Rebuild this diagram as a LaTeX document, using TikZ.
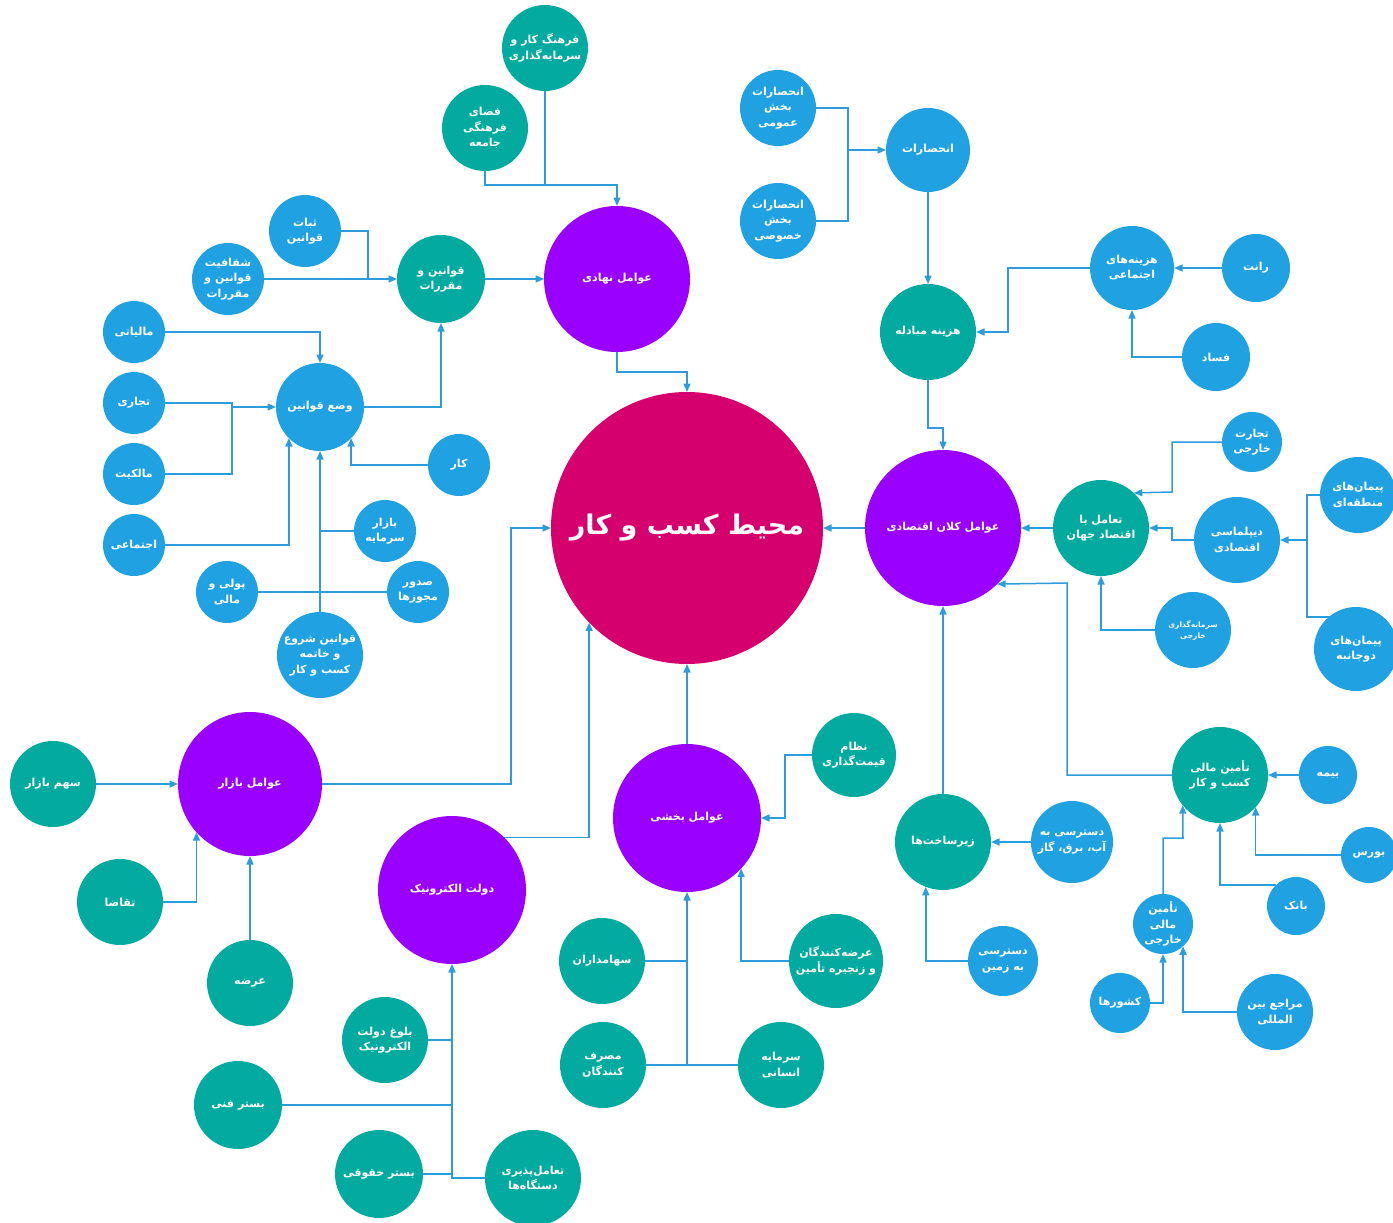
\documentclass[tikz,border=0pt]{standalone}
\usepackage{fontspec}
\usetikzlibrary{arrows.meta,backgrounds}
\TeXXeTstate=1
\newfontfamily\fa[Script=Arabic]{DejaVu Sans}
\newcommand\fatxt[1]{\beginR #1\endR}
\definecolor{cblue}{RGB}{31,161,226}
\definecolor{cteal}{RGB}{2,170,160}
\definecolor{cpurp}{RGB}{153,0,255}
\definecolor{cmag}{RGB}{213,0,110}
\definecolor{cline}{RGB}{45,156,219}
\tikzset{
 bub/.style={circle, inner sep=0pt, outer sep=0pt, text=white, align=center,
   font=\fa\bfseries\fontsize{11}{15.5}\selectfont},
 bl/.style={bub, fill=cblue},
 tl/.style={bub, fill=cteal},
 pu/.style={bub, fill=cpurp},
 ln/.style={draw=cline, line width=1.5pt},
 arr/.style={ln, -{Triangle[length=8.5pt,width=7pt]}},
 r/.style={minimum size=2*#1}
}
\begin{document}
\begin{tikzpicture}[x=1pt,y=-1pt]
\useasboundingbox (0,0) rectangle (1393,1223);
% center
\node[bub, fill=cmag, r=136, font=\fa\bfseries\fontsize{27}{30}\selectfont] (C) at (687,528) {\fatxt{محیط کسب و کار}};
% purple
\node[pu, r=73] (NH) at (617,279) {\fatxt{عوامل نهادی}};
\node[pu, r=78] (KL) at (943,528) {\fatxt{عوامل کلان اقتصادی}};
\node[pu, r=72] (BZ) at (250,784) {\fatxt{عوامل بازار}};
\node[pu, r=74] (DE) at (452,890) {\fatxt{دولت الکترونیک}};
\node[pu, r=74] (BK) at (687,818) {\fatxt{عوامل بخشی}};
% teal
\node[tl, r=43] (FK) at (545,48) {\fatxt{فرهنگ کار و}\\\fatxt{سرمایه^^^^200cگذاری}};
\node[tl, r=43] (FF) at (485,128) {\fatxt{فضای}\\\fatxt{فرهنگی}\\\fatxt{جامعه}};
\node[tl, r=44] (QM) at (441,279) {\fatxt{قوانین و}\\\fatxt{مقررات}};
\node[tl, r=48] (HM) at (928,332) {\fatxt{هزینه مبادله}};
\node[tl, r=48] (TJ) at (1101,528) {\fatxt{تعامل با}\\\fatxt{اقتصاد جهان}};
\node[tl, r=42] (NQ) at (854,755) {\fatxt{نظام}\\\fatxt{قیمت^^^^200cگذاری}};
\node[tl, r=48] (ZS) at (943,842) {\fatxt{زیرساخت^^^^200cها}};
\node[tl, r=48] (TM) at (1220,775) {\fatxt{تأمین مالی}\\\fatxt{کسب و کار}};
\node[tl, r=43] (SB) at (53,784) {\fatxt{سهم بازار}};
\node[tl, r=43] (TQ) at (120,902) {\fatxt{تقاضا}};
\node[tl, r=43] (AR) at (250,983) {\fatxt{عرضه}};
\node[tl, r=43] (BL) at (385,1040) {\fatxt{بلوغ دولت}\\\fatxt{الکترونیک}};
\node[tl, r=44] (BF) at (238,1105) {\fatxt{بستر فنی}};
\node[tl, r=44] (BH) at (379,1174) {\fatxt{بستر حقوقی}};
\node[tl, r=48] (TP) at (533,1178) {\fatxt{تعامل^^^^200cپذیری}\\\fatxt{دستگاه^^^^200cها}};
\node[tl, r=43] (SH) at (602,961) {\fatxt{سهامداران}};
\node[tl, r=43] (MK) at (603,1065) {\fatxt{مصرف}\\\fatxt{کنندگان}};
\node[tl, r=47] (AK) at (836,961) {\fatxt{عرضه^^^^200cکنندگان}\\\fatxt{و زنجیره تأمین}};
\node[tl, r=43] (SE) at (781,1065) {\fatxt{سرمایه}\\\fatxt{انسانی}};
% blue
\node[bl, r=36] (SQ) at (305,231) {\fatxt{ثبات}\\\fatxt{قوانین}};
\node[bl, r=36] (SF) at (228,279) {\fatxt{شفافیت}\\\fatxt{قوانین و}\\\fatxt{مقررات}};
\node[bl, r=31] (ML) at (134,332) {\fatxt{مالیاتی}};
\node[bl, r=31] (TR) at (134,403) {\fatxt{تجاری}};
\node[bl, r=31] (MA) at (134,474) {\fatxt{مالکیت}};
\node[bl, r=31] (EJ) at (134,545) {\fatxt{اجتماعی}};
\node[bl, r=44] (WQ) at (320,407) {\fatxt{وضع قوانین}};
\node[bl, r=31] (KA) at (459,465) {\fatxt{کار}};
\node[bl, r=31] (BS) at (385,531) {\fatxt{بازار}\\\fatxt{سرمایه}};
\node[bl, r=31] (SM) at (418,592) {\fatxt{صدور}\\\fatxt{مجوزها}};
\node[bl, r=31] (PM) at (227,592) {\fatxt{پولی و}\\\fatxt{مالی}};
\node[bl, r=43] (QS) at (320,655) {\fatxt{قوانین شروع}\\\fatxt{و خاتمه}\\\fatxt{کسب و کار}};
\node[bl, r=38] (EA) at (778,108) {\fatxt{انحصارات}\\\fatxt{بخش}\\\fatxt{عمومی}};
\node[bl, r=38] (EB) at (778,221) {\fatxt{انحصارات}\\\fatxt{بخش}\\\fatxt{خصوصی}};
\node[bl, r=42] (EN) at (928,150) {\fatxt{انحصارات}};
\node[bl, r=42] (HE) at (1132,268) {\fatxt{هزینه^^^^200cهای}\\\fatxt{اجتماعی}};
\node[bl, r=34] (RA) at (1256,268) {\fatxt{رانت}};
\node[bl, r=34] (FS) at (1216,357) {\fatxt{فساد}};
\node[bl, r=30] (TK) at (1252,442) {\fatxt{تجارت}\\\fatxt{خارجی}};
\node[bl, r=43] (DP) at (1237,540) {\fatxt{دیپلماسی}\\\fatxt{اقتصادی}};
\node[bl, r=38] (PR) at (1358,495) {\fatxt{پیمان^^^^200cهای}\\\fatxt{منطقه^^^^200cای}};
\node[bl, r=42] (PD) at (1356,649) {\fatxt{پیمان^^^^200cهای}\\\fatxt{دوجانبه}};
\node[bl, r=38, font=\fa\bfseries\fontsize{7.5}{11}\selectfont] (SK) at (1193,630) {\fatxt{سرمایه^^^^200cگذاری}\\\fatxt{خارجی}};
\node[bl, r=41] (DA) at (1072,842) {\fatxt{دسترسی به}\\\fatxt{آب، برق، گاز}};
\node[bl, r=35] (DZ) at (1003,961) {\fatxt{دسترسی}\\\fatxt{به زمین}};
\node[bl, r=29] (BM) at (1328,775) {\fatxt{بیمه}};
\node[bl, r=28] (BR) at (1369,855) {\fatxt{بورس}};
\node[bl, r=29] (BN) at (1296,906) {\fatxt{بانک}};
\node[bl, r=30] (TX) at (1163,924) {\fatxt{تأمین}\\\fatxt{مالی}\\\fatxt{خارجی}};
\node[bl, r=30] (KS) at (1120,1003) {\fatxt{کشورها}};
\node[bl, r=38] (MB) at (1275,1012) {\fatxt{مراجع بین}\\\fatxt{المللی}};
% connectors
\begin{scope}[on background layer]
\draw[ln] (FK.center) -- (545,185);
\draw[arr] (FF.center) |- (617,185) -- (NH.north);
\draw[ln] (SQ.center) -| (368,279);
\draw[arr] (SF.center) -- (QM.west);
\draw[arr] (QM.center) -- (NH.west);
\draw[arr] (NH.center) |- (687,372) -- (C.north);
\draw[arr] (ML.center) -| (WQ.north);
\draw[ln] (TR.center) -| (232,474) -- (MA.center);
\draw[arr] (232,407) -- (WQ.west);
\draw[arr] (EJ.center) -| (WQ.225);
\draw[arr] (KA.center) -| (WQ.315);
\draw[ln] (BS.center) -- (320,531);
\draw[ln] (PM.center) -- (SM.center);
\draw[arr] (QS.center) -- (WQ.south);
\draw[arr] (WQ.center) -| (QM.south);
\draw[arr] (BZ.center) -| (511,528) -- (C.west);
\draw[arr] (DE.45) -| (C.224.5);
\draw[arr] (SB.center) -- (BZ.west);
\draw[arr] (TQ.center) -| (BZ.222.6);
\draw[arr] (AR.center) -- (BZ.south);
\draw[ln] (BL.center) -- (BL.center -| DE.south);
\draw[ln] (BF.center) -- (BF.center -| DE.south);
\draw[ln] (BH.center) -- (BH.center -| DE.south);
\draw[arr] (TP.center) -| (DE.south);
\draw[arr] (BK.north) -- (C.south);
\draw[arr] (NQ.center) -| (785,818) -- (BK.east);
\draw[ln] (SH.center) -- (SH.center -| BK.south);
\draw[ln] (MK.center) -- (MK.center -| BK.south);
\draw[arr] (SE.center) -| (BK.south);
\draw[arr] (AK.center) -| (BK.317);
\draw[ln] (EA.center) -| (848,221) -- (EB.center);
\draw[arr] (848,150) -- (EN.west);
\draw[arr] (EN.south) -- (HM.north);
\draw[arr] (HE.center) -| (1008,332) -- (HM.east);
\draw[arr] (RA.center) -- (HE.east);
\draw[arr] (FS.center) -| (HE.south);
\draw[arr] (HM.center) |- (943,428) -- (KL.north);
\draw[arr] (KL.west) -- (C.east);
\draw[arr] (TJ.west) -- (KL.east);
\draw[arr] (TK.center) -| (1172,492) -- (TJ.47);
\draw[arr] (DP.center) -| (1172,528) -- (TJ.east);
\draw[ln] (PR.center) -| (1307,617) -- (1345,617);
\draw[arr] (1307,540) -- (DP.east);
\draw[arr] (SK.center) -| (TJ.south);
\draw[arr] (ZS.north) -- (KL.south);
\draw[arr] (TM.center) -| (1067,583) -- (KL.314);
\draw[arr] (DA.center) -- (ZS.east);
\draw[arr] (DZ.center) -| (ZS.249);
\draw[arr] (BM.center) -- (TM.east);
\draw[arr] (BR.center) -| (TM.318.6);
\draw[arr] (BN.134) -| (TM.south);
\draw[arr] (TX.north) |- (1183,838) -- (TM.219.6);
\draw[arr] (KS.center) -| (TX.south);
\draw[arr] (MB.center) -| (TX.312);
\end{scope}
\end{tikzpicture}
\end{document}
